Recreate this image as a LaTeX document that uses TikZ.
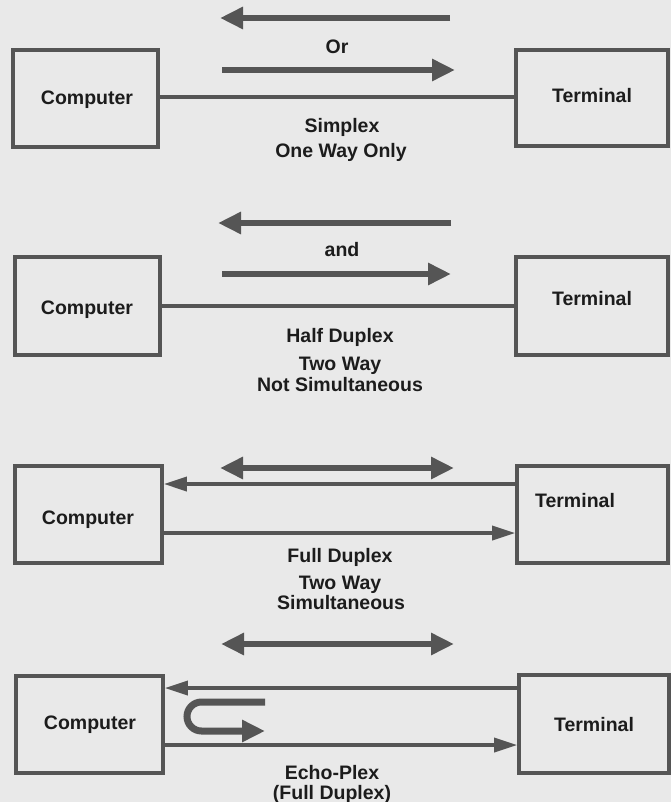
\documentclass[tikz,border=0pt]{standalone}
\usepackage{fontspec}
\setmainfont{Liberation Sans}
\usetikzlibrary{arrows.meta}
\definecolor{bg}{HTML}{E9E9E9}
\definecolor{ink}{HTML}{555555}
\definecolor{fat}{HTML}{555555}
\definecolor{txt}{HTML}{1C1C1C}
\begin{document}
\begin{tikzpicture}[x=1pt,y=-1pt,
  box/.style={draw=ink, line width=3.6pt, rectangle, inner sep=0pt},
  lbl/.style={text=txt, font=\bfseries\fontsize{19.5}{22}\selectfont, text height=14pt, text depth=0pt, inner sep=0pt},
  fatarrow/.style={draw=fat, line width=6pt, -{Triangle[length=23pt,width=21pt]}},
  fatboth/.style={draw=fat, line width=6pt, {Triangle[length=23pt,width=21pt]}-{Triangle[length=23pt,width=21pt]}},
  link/.style={draw=ink, line width=3.4pt},
  linkarrow/.style={draw=ink, line width=3.4pt, -{Triangle[length=23pt,width=14pt]}}
]
\fill[bg] (0,0) rectangle (671,802);
\useasboundingbox (0,0) rectangle (671,802);

% ---------- Panel 1: Simplex ----------
\node[box, minimum width=145pt, minimum height=97pt] (c1) at (85.5,98.5) {};
\node[box, minimum width=152pt, minimum height=96pt] (t1) at (592,98) {};
\node[lbl] (c1t) at (87,98) {Computer};
\node[lbl] (t1t) at (592,96) {Terminal};
\coordinate (p1a) at (450,18); \coordinate (p1b) at (220,18);
\coordinate (p1c) at (222,70); \coordinate (p1d) at (455,70);
\draw[fatarrow] (p1a) -- (p1b);
\draw[fatarrow] (p1c) -- (p1d);
\node[lbl] (or) at (337,47) {Or};
\coordinate (l1) at (0,97);
\draw[link] (c1.east |- l1) -- (t1.west |- l1);
\node[lbl] (s1a) at (342,126) {Simplex};
\node[lbl] (s1b) at (341,151) {One Way Only};

% ---------- Panel 2: Half Duplex ----------
\node[box, minimum width=145pt, minimum height=98pt] (c2) at (87.5,306) {};
\node[box, minimum width=152pt, minimum height=98pt] (t2) at (592,306) {};
\node[lbl] (c2t) at (87,307) {Computer};
\node[lbl] (t2t) at (592,298) {Terminal};
\coordinate (p2a) at (451,223); \coordinate (p2b) at (218,223);
\coordinate (p2c) at (222,274); \coordinate (p2d) at (451,274);
\draw[fatarrow] (p2a) -- (p2b);
\draw[fatarrow] (p2c) -- (p2d);
\node[lbl] (and) at (342,249) {and};
\coordinate (l2) at (0,306);
\draw[link] (c2.east |- l2) -- (t2.west |- l2);
\node[lbl] (s2a) at (340,335) {Half Duplex};
\node[lbl] (s2b) at (340,363) {Two Way};
\node[lbl] (s2c) at (340,384) {Not Simultaneous};

% ---------- Panel 3: Full Duplex ----------
\node[box, minimum width=147pt, minimum height=97pt] (c3) at (88.5,514.5) {};
\node[box, minimum width=151pt, minimum height=97pt] (t3) at (592.5,514.5) {};
\node[lbl] (c3t) at (88,517) {Computer};
\node[lbl] (t3t) at (575,500) {Terminal};
\coordinate (p3a) at (220,468); \coordinate (p3b) at (454,468);
\draw[fatboth] (p3a) -- (p3b);
\coordinate (u3) at (0,484); \coordinate (d3) at (0,533);
\draw[linkarrow] (t3.west |- u3) -- (c3.east |- u3);
\draw[linkarrow] (c3.east |- d3) -- (t3.west |- d3);
\node[lbl] (s3a) at (340,555) {Full Duplex};
\node[lbl] (s3b) at (340,582) {Two Way};
\node[lbl] (s3c) at (341,602) {Simultaneous};

% ---------- Panel 4: Echo-Plex ----------
\node[box, minimum width=147pt, minimum height=97pt] (c4) at (89.5,724.5) {};
\node[box, minimum width=150pt, minimum height=98pt] (t4) at (594,724) {};
\node[lbl] (c4t) at (90,722) {Computer};
\node[lbl] (t4t) at (594,724) {Terminal};
\coordinate (p4a) at (221,644); \coordinate (p4b) at (454,644);
\draw[fatboth] (p4a) -- (p4b);
\coordinate (u4) at (0,688); \coordinate (d4) at (0,745);
\draw[linkarrow] (t4.west |- u4) -- (c4.east |- u4);
\draw[linkarrow] (c4.east |- d4) -- (t4.west |- d4);
\coordinate (e1) at (265,702); \coordinate (e2) at (187,702);
\coordinate (e3) at (187,731); \coordinate (e4) at (265,731);
\draw[fatarrow, line width=7pt, rounded corners=14.5pt] (e1) -- (e2) -- (e3) -- (e4);
\node[lbl] (s4a) at (332,772) {Echo-Plex};
\node[lbl] (s4b) at (332,792) {(Full Duplex)};
\end{tikzpicture}
\end{document}
